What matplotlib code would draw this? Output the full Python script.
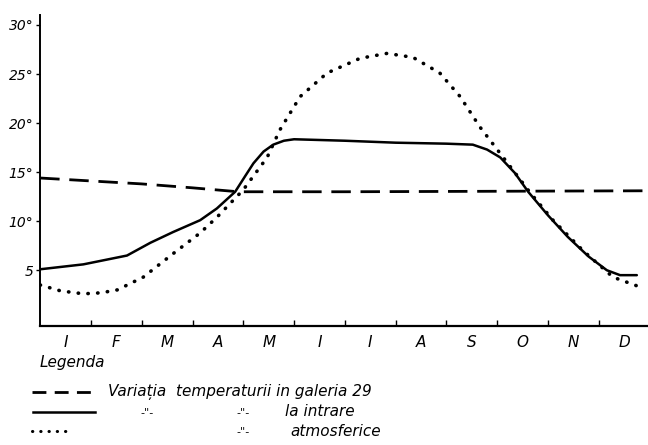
import matplotlib.pyplot as plt
from matplotlib.lines import Line2D

# month positions: 0 = start of January, 12 = end of December
months = ['I', 'F', 'M', 'A', 'M', 'I', 'I', 'A', 'S', 'O', 'N', 'D']

# temperature in gallery 29
galerie_x = [0.0, 1.0, 2.0, 3.0, 3.9, 6.0, 9.0, 12.0]
galerie_y = [14.4, 14.1, 13.8, 13.4, 13.0, 13.0, 13.05, 13.1]

# at the entrance
intrare_x = [0.0, 0.85, 1.71, 2.17, 2.62, 3.15, 3.48, 3.84, 4.05, 4.2, 4.4, 4.59,
             4.8, 5.0, 6.0, 7.0, 8.0, 8.52, 8.8, 9.06, 9.35, 9.61, 10.0, 10.39,
             10.8, 11.16, 11.42, 11.75]
intrare_y = [5.1, 5.6, 6.5, 7.8, 8.9, 10.1, 11.3, 13.0, 14.7, 15.9, 17.1, 17.8,
             18.2, 18.35, 18.2, 18.0, 17.9, 17.8, 17.3, 16.5, 14.9, 13.0, 10.6,
             8.4, 6.4, 5.0, 4.5, 4.5]

# atmospheric
atmo_x = [0.0, 0.4, 0.85, 1.2, 1.52, 2.03, 2.62, 3.15, 3.48, 4.0, 4.47, 4.72,
          5.12, 5.65, 6.3, 6.83, 7.34, 7.87, 8.27, 8.66, 9.06, 9.65, 10.1, 10.69,
          11.28, 11.81]
atmo_y = [3.5, 2.9, 2.6, 2.7, 3.0, 4.3, 6.7, 8.8, 10.4, 13.2, 16.5, 19.3,
          22.7, 25.1, 26.6, 27.1, 26.7, 25.1, 22.7, 19.6, 16.9, 12.9, 10.1, 7.0,
          4.3, 3.3]

yticks = [5, 10, 15, 20, 25, 30]
ylabels = ['5', '10°', '15°', '20°', '25°', '30°']

plt.rcParams['font.family'] = 'DejaVu Sans'

fig = plt.figure(figsize=(6.48, 4.45), dpi=100)
ax = fig.add_axes([0.062, 0.267, 0.938, 0.699])

ax.plot(galerie_x, galerie_y, color='black', lw=2.0, linestyle=(0, (7, 3.5)))
ax.plot(intrare_x, intrare_y, color='black', lw=1.8, solid_capstyle='round',
        solid_joinstyle='round')
ax.plot(atmo_x, atmo_y, color='black', lw=2.6, linestyle=(0, (0.1, 2.6)),
        dash_capstyle='round')

ax.set_xlim(0, 11.97)
ax.set_ylim(-0.7, 31)
ax.spines['top'].set_visible(False)
ax.spines['right'].set_visible(False)
ax.spines['left'].set_linewidth(1.4)
ax.spines['bottom'].set_linewidth(1.6)

ax.set_yticks(yticks)
ax.set_yticklabels(ylabels, fontstyle='italic', fontsize=10)
ax.tick_params(axis='y', direction='out', length=3, width=1, pad=2)

ax.set_xticks([i + 0.5 for i in range(12)])
ax.set_xticklabels(months, fontstyle='italic', fontsize=11)
ax.set_xticks(range(1, 12), minor=True)
ax.tick_params(axis='x', which='major', length=0, pad=6)
ax.tick_params(axis='x', which='minor', direction='in', length=4, width=1)

# legend drawn by hand, as in the original
fig.text(40 / 648, 1 - 362 / 445, 'Legenda', fontsize=11, fontstyle='italic',
         va='center')
rows = [392 / 445, 412 / 445, 431 / 445]
fig.add_artist(Line2D([32 / 648, 95 / 648], [1 - rows[0]] * 2, color='black',
                      lw=2.0, linestyle=(0, (5, 3))))
fig.add_artist(Line2D([33 / 648, 95 / 648], [1 - rows[1]] * 2, color='black',
                      lw=1.8))
fig.add_artist(Line2D([32 / 648, 70 / 648], [1 - rows[2]] * 2, color='black',
                      lw=2.2, linestyle=(0, (0.1, 2.6)), dash_capstyle='round'))

fig.text(108 / 648, 1 - rows[0], 'Variația  temperaturii in galeria 29',
         fontsize=11, fontstyle='italic', va='center')
fig.text(140 / 648, 1 - rows[1], '-"-', fontsize=8, va='center')
fig.text(236 / 648, 1 - rows[1], '-"-', fontsize=8, va='center')
fig.text(285 / 648, 1 - rows[1], 'la intrare', fontsize=11, fontstyle='italic',
         va='center')
fig.text(236 / 648, 1 - rows[2], '-"-', fontsize=8, va='center')
fig.text(290 / 648, 1 - rows[2], 'atmosferice', fontsize=11, fontstyle='italic',
         va='center')

fig.savefig('out.png', dpi=100)
